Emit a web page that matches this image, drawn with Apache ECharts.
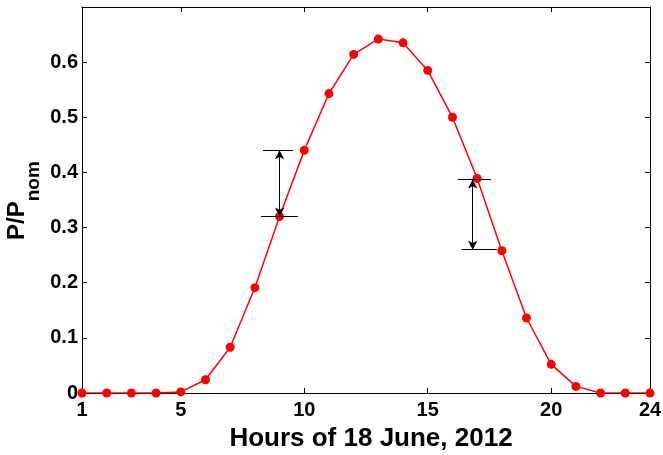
<!DOCTYPE html>
<html>
<head>
<meta charset="utf-8">
<script src="https://cdn.jsdelivr.net/npm/echarts@6/dist/echarts.min.js"></script>
<style>
  html, body { margin: 0; padding: 0; background: #fff; }
  #chart { width: 663px; height: 455px; }
</style>
</head>
<body>
<div id="chart"></div>
<script>
// hours of the day and normalised power
const hours = [1, 2, 3, 4, 5, 6, 7, 8, 9, 10, 11, 12, 13, 14, 15, 16, 17, 18, 19, 20, 21, 22, 23, 24];
const power = [0, 0, 0, 0, 0.002, 0.024, 0.083, 0.191, 0.32, 0.44, 0.543, 0.614, 0.642, 0.635,
               0.585, 0.50, 0.389, 0.258, 0.136, 0.052, 0.012, 0, 0, 0];
const xTicks = [1, 5, 10, 15, 20, 24];
const yTicks = [0, 0.1, 0.2, 0.3, 0.4, 0.5, 0.6];

// arrows: [hour, from, to]
const arrows = [[9, 0.44, 0.32], [16.82, 0.26, 0.387]];
// horizontal bars: [hourStart, hourEnd, value]
const bars = [[8.33, 9.55, 0.44], [8.25, 9.74, 0.32], [16.22, 17.56, 0.387], [16.38, 17.8, 0.26]];

const chart = echarts.init(document.getElementById('chart'));
const font = 'Liberation Sans';

const baseX = {
    type: 'value',
    min: 1,
    max: 24,
    axisLine: { onZero: false, lineStyle: { color: '#000', width: 1 } },
    axisTick: { inside: true, length: 5, customValues: xTicks, lineStyle: { color: '#000' } },
    splitLine: { show: false }
};
const baseY = {
    type: 'value',
    min: 0,
    max: 0.7,
    interval: 0.1,
    axisLine: { show: true, onZero: false, lineStyle: { color: '#000', width: 1 } },
    axisTick: { inside: true, length: 5, lineStyle: { color: '#000' } },
    splitLine: { show: false }
};

const markData = arrows.map(a => [
    { coord: [a[0], a[1]], symbol: 'arrow' },
    { coord: [a[0], a[2]], symbol: 'arrow' }
]).concat(bars.map(b => [
    { coord: [b[0], b[2]], symbol: 'none' },
    { coord: [b[1], b[2]], symbol: 'none' }
]));

chart.setOption({
    animation: false,
    grid: { left: 82, right: 13, top: 7, bottom: 62, containLabel: false, outerBoundsMode: 'none' },
    xAxis: [
        Object.assign({}, baseX, {
            position: 'bottom',
            name: 'Hours of 18 June, 2012',
            nameLocation: 'middle',
            nameGap: 33,
            nameMoveOverlap: false,
            nameTextStyle: { fontFamily: font, fontWeight: 'bold', fontSize: 26, color: '#000', padding: [0, 0, 0, 10] },
            axisLabel: {
                customValues: xTicks,
                fontFamily: font, fontWeight: 'bold', fontSize: 20, color: '#000', margin: 7
            }
        }),
        Object.assign({}, baseX, { position: 'top', axisLabel: { show: false } })
    ],
    yAxis: [
        Object.assign({}, baseY, {
            position: 'left',
            name: '{a|P/P}{b|nom}{c| }',
            nameLocation: 'middle',
            nameGap: 39,
            nameMoveOverlap: false,
            nameTextStyle: {
                rich: {
                    a: { fontFamily: font, fontWeight: 'bold', fontSize: 24, color: '#000', verticalAlign: 'top', lineHeight: 24 },
                    b: { fontFamily: font, fontWeight: 'bold', fontSize: 19, color: '#000', verticalAlign: 'bottom', lineHeight: 19 },
                    c: { fontSize: 4, lineHeight: 38 }
                }
            },
            axisLabel: {
                fontFamily: font, fontWeight: 'bold', fontSize: 20, color: '#000', margin: 4,
                showMaxLabel: false
            }
        }),
        Object.assign({}, baseY, { position: 'right', axisLabel: { show: false } })
    ],
    series: [
        {
            type: 'line',
            data: hours.map((h, i) => [h, power[i]]),
            symbol: 'circle',
            symbolSize: 9,
            itemStyle: { color: '#ff0000' },
            lineStyle: { color: '#ff0000', width: 1.5 },
            z: 3
        },
        {
            type: 'line',
            data: [],
            markLine: {
                silent: true,
                animation: false,
                symbolSize: [7, 9],
                label: { show: false },
                lineStyle: { color: '#000', width: 1, type: 'solid' },
                emphasis: { disabled: true },
                data: markData
            },
            z: 2
        }
    ]
});
</script>
</body>
</html>
